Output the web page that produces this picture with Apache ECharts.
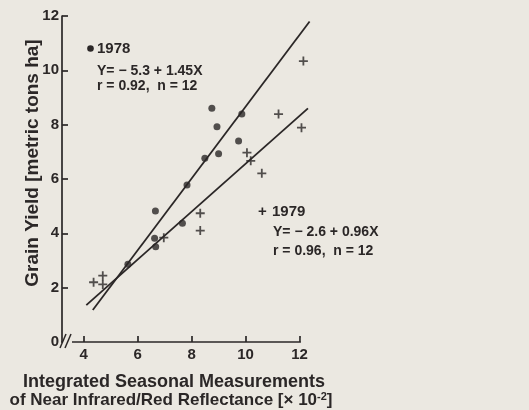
<!DOCTYPE html>
<html><head><meta charset="utf-8">
<script src="https://cdn.jsdelivr.net/npm/echarts@6/dist/echarts.min.js"></script>
<style>html,body{margin:0;padding:0;background:#ebe8e1;}#c{width:529px;height:410px;}</style>
</head><body><div id="c"></div>
<script>
// tick labels
const xTicks = [4, 6, 8, 10, 12];
const yTicks = [0, 2, 4, 6, 8, 10, 12];
// 1978 observations (dots)
const x1978 = [8.75, 9.86, 8.94, 9.74, 9.00, 8.49, 7.83, 6.66, 7.66, 6.63, 6.67, 5.64];
const y1978 = [8.60, 8.39, 7.92, 7.40, 6.93, 6.76, 5.78, 4.82, 4.37, 3.82, 3.51, 2.86];
// 1979 observations (crosses)
const x1979 = [12.14, 11.22, 12.07, 10.05, 10.19, 10.60, 8.32, 8.32, 6.97, 4.37, 4.71, 4.71];
const y1979 = [10.34, 8.39, 7.89, 6.97, 6.67, 6.21, 4.74, 4.10, 3.84, 2.20, 2.44, 2.12];
// fitted lines (end points)
const fit1978X = [4.34, 12.37];
const fit1978Y = [1.18, 11.80];
const fit1979X = [4.10, 12.31];
const fit1979Y = [1.36, 8.60];
// texts
const yTitle = 'Grain Yield [metric tons ha]';
const xTitle1 = 'Integrated Seasonal Measurements';
const xTitle2 = 'of Near Infrared/Red Reflectance [× 10{sup|-2}]';
const note1978 = ['1978', 'Y= − 5.3 + 1.45X', 'r = 0.92,  n = 12'];
const note1979 = ['1979', 'Y= − 2.6 + 0.96X', 'r = 0.96,  n = 12'];

const ink = '#2b2727';
const bg = '#ebe8e1';
const font = '"Liberation Sans", Arial, sans-serif';
const zip = (a, b) => a.map((v, i) => [v, b[i]]);
const plus = 'path://M4,0H6V4H10V6H6V10H4V6H0V4H4Z';

const chart = echarts.init(document.getElementById('c'), null, {renderer: 'canvas'});
const txt = (x, y, s, size) => ({
  type: 'text', x: x, y: y,
  style: {text: s, fill: ink, font: 'bold ' + (size || 14) + 'px ' + font, textVerticalAlign: 'middle'}
});

chart.setOption({
  backgroundColor: bg,
  animation: false,
  // x runs 3.2 .. 12.4 so the fitted lines can reach past the last tick
  grid: {left: 62, right: 218.6, top: 16, bottom: 68},
  xAxis: {
    type: 'value', min: 3.2, max: 12.4,
    axisLine: {lineStyle: {color: ink, width: 1.7}},
    axisTick: {inside: true, length: 6, lineStyle: {color: ink, width: 1.7}, customValues: xTicks},
    axisLabel: {color: ink, fontFamily: font, fontWeight: 'bold', fontSize: 15, margin: 5, customValues: xTicks},
    splitLine: {show: false}
  },
  yAxis: {
    type: 'value', min: 0, max: 12, interval: 2,
    axisLine: {show: true, lineStyle: {color: ink, width: 1.7}},
    axisTick: {show: true, inside: true, length: 6, lineStyle: {color: ink, width: 1.7}},
    axisLabel: {color: ink, fontFamily: font, fontWeight: 'bold', fontSize: 15, margin: 3,
      formatter: v => yTicks.includes(v) ? String(v) : ''},
    splitLine: {show: false}
  },
  series: [
    {type: 'line', data: zip(fit1978X, fit1978Y), symbol: 'none', clip: false, lineStyle: {color: ink, width: 1.8}, z: 2},
    {type: 'line', data: zip(fit1979X, fit1979Y), symbol: 'none', clip: false, lineStyle: {color: ink, width: 1.8}, z: 2},
    {type: 'scatter', data: zip(x1978, y1978), clip: false, symbol: 'circle', symbolSize: 7, itemStyle: {color: ink}, z: 3},
    {type: 'scatter', data: zip(x1979, y1979), clip: false, symbol: plus, symbolSize: 9, itemStyle: {color: ink}, z: 3}
  ],
  graphic: [
    // hide axis line past the last tick (12)
    {type: 'rect', shape: {x: 300.9, y: 338, width: 14, height: 9}, style: {fill: bg}, z: 100},
    // axis break
    {type: 'rect', shape: {x: 63, y: 338, width: 9, height: 8}, style: {fill: bg}, z: 100},
    {type: 'line', shape: {x1: 60, y1: 348, x2: 66, y2: 334}, style: {stroke: ink, lineWidth: 1.5}, z: 101},
    {type: 'line', shape: {x1: 65, y1: 348, x2: 71, y2: 334}, style: {stroke: ink, lineWidth: 1.5}, z: 101},
    // y title
    {type: 'text', x: 33, y: 163, rotation: Math.PI / 2,
      style: {text: yTitle, fill: ink, font: 'bold 19px ' + font, textAlign: 'center', textVerticalAlign: 'middle'}},
    // x title
    {type: 'text', x: 174, y: 382,
      style: {text: xTitle1, fill: ink, font: 'bold 18px ' + font, textAlign: 'center', textVerticalAlign: 'middle'}},
    {type: 'text', x: 171, y: 400,
      style: {text: xTitle2, fill: ink, font: 'bold 17px ' + font, textAlign: 'center', textVerticalAlign: 'middle',
        rich: {sup: {fontSize: 11, fontWeight: 'bold', fontFamily: font, fill: ink, verticalAlign: 'top', padding: [0, 0, 7, 0]}}}},
    // 1978 note
    {type: 'circle', shape: {cx: 90.5, cy: 48.5, r: 3.3}, style: {fill: ink}},
    txt(97, 49, note1978[0], 15),
    txt(97, 71, note1978[1], 14),
    txt(97, 86, note1978[2], 14),
    // 1979 note
    txt(258, 212, '+', 15),
    txt(272, 212, note1979[0], 15),
    txt(273, 232, note1979[1], 14),
    txt(273, 251, note1979[2], 14)
  ]
});
</script></body></html>
